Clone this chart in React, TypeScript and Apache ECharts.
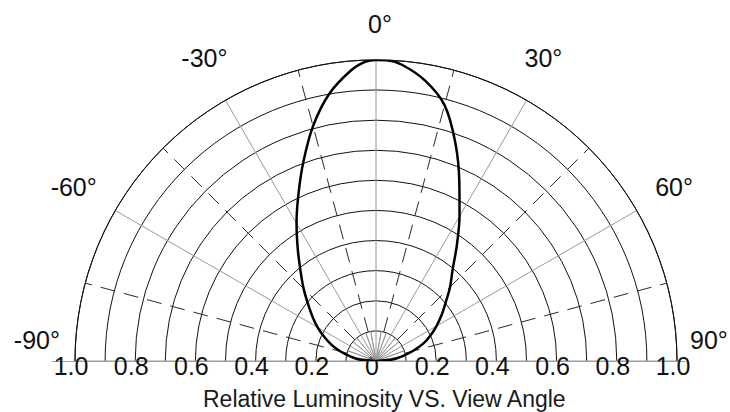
import React, { useEffect, useRef } from "react";
import * as echarts from "echarts";

// ---- data ----
const angleTicks = [-90, -60, -30, 0, 30, 60, 90];
const radiusTicks = [-1, -0.8, -0.6, -0.4, -0.2, 0, 0.2, 0.4, 0.6, 0.8, 1];
const curveAngles = [
  -90, -85, -80, -75, -70, -65, -60, -55, -50, -45, -40, -35, -30, -25, -20, -15, -10, -5,
  -2, 0, 2,
  5, 10, 15, 20, 25, 30, 35, 40, 45, 50, 55, 60, 65, 70, 75, 80, 85, 90,
];
const curveLuminosity = [
  0, 0.055, 0.085, 0.122, 0.157, 0.19, 0.224, 0.258, 0.295, 0.34, 0.39, 0.453, 0.528, 0.61, 0.705, 0.808, 0.9, 0.968,
  0.995, 1.0, 1.0,
  0.988, 0.945, 0.88, 0.771, 0.655, 0.555, 0.468, 0.396, 0.348, 0.302, 0.266, 0.232, 0.199, 0.166, 0.125, 0.088, 0.055, 0,
];
const dashedSpokes = [-75, -45, -15, 15, 45, 75];
const innerSpokes = [-80, -70, -50, -40, -20, -10, 10, 20, 40, 50, 70, 80];
const titleText = "Relative Luminosity VS. View Angle";

const FONT = "'Liberation Sans', Arial, sans-serif";

export default function App() {
  const ref = useRef<HTMLDivElement>(null);

  useEffect(() => {
    document.body.style.margin = "0";
    if (!ref.current) return;
    const chart = echarts.init(ref.current, undefined, { renderer: "svg" });

    const cx = 376;
    const cy = 361;
    const R = 301;
    const axisCx = 372;
    const xMin = (52 - axisCx) / R;
    const xMax = (685 - axisCx) / R;

    const curveData = curveAngles.map((a, i) => [curveLuminosity[i], a]);

    const innerData: any[] = [];
    innerSpokes.forEach((a) => {
      innerData.push([0.1, a]);
      innerData.push([0, a]);
    });

    const dashedSeries = dashedSpokes.map((a) => ({
      type: "line",
      coordinateSystem: "polar",
      data: [
        [0.1, a],
        [1.0, a],
      ],
      symbol: "none",
      silent: true,
      lineStyle: { color: "#2a2a2a", width: 1, type: [15, 9] },
      z: 3,
    }));

    const labelFont = { fontSize: 25, color: "#111", fontFamily: FONT };
    // per-label nudges (padding: top, right, bottom, left)
    const rich: any = {
      m90: { ...labelFont, padding: [0, 19, 43, 0] },
      m60: { ...labelFont, padding: [0, 22, 13, 0] },
      m30: { ...labelFont, padding: [0, 0, 33, 0] },
      z0: { ...labelFont, padding: [0, 0, 28, 8] },
      p30: { ...labelFont, padding: [0, 0, 33, 0] },
      p60: { ...labelFont, padding: [0, 0, 13, 22] },
      p90: { ...labelFont, padding: [0, 0, 42, 17] },
    };
    const richName = (v: number) =>
      v === 0 ? "z0" : (v < 0 ? "m" : "p") + Math.abs(v);

    const option: any = {
      animation: false,
      backgroundColor: "#ffffff",
      title: {
        text: titleText,
        left: 198,
        top: 382,
        textStyle: { fontSize: 23, fontWeight: "normal", color: "#1a1a1a", fontFamily: FONT },
      },
      polar: { center: [cx, cy], radius: R },
      angleAxis: {
        type: "value",
        min: -90,
        max: 90,
        interval: 30,
        startAngle: 180,
        endAngle: 0,
        clockwise: true,
        axisLine: { show: true, lineStyle: { color: "#111", width: 1 } },
        axisTick: { show: false },
        splitLine: { show: true, lineStyle: { color: "#9a9a9a", width: 1 } },
        axisLabel: {
          show: true,
          margin: -4,
          ...labelFont,
          rich,
          formatter: (v: number) =>
            angleTicks.includes(v) ? `{${richName(v)}|${v}°}` : "",
        },
      },
      radiusAxis: {
        type: "value",
        min: 0,
        max: 1,
        interval: 0.1,
        axisLine: { show: false },
        axisTick: { show: false },
        axisLabel: { show: false },
        splitLine: { show: true, lineStyle: { color: "#111", width: 1 } },
      },
      grid: {
        left: axisCx + xMin * R,
        width: (xMax - xMin) * R,
        top: 0,
        bottom: 412 - cy,
        show: false,
      },
      xAxis: {
        type: "value",
        min: xMin,
        max: xMax,
        axisLine: { show: true, onZero: false, lineStyle: { color: "#a0a0a0", width: 1 } },
        axisTick: { show: false },
        splitLine: { show: false },
        axisLabel: {
          customValues: radiusTicks,
          margin: -8,
          ...labelFont,
          formatter: (v: number) => (Math.abs(v) < 1e-9 ? "0" : Math.abs(v).toFixed(1)),
        },
      },
      yAxis: { type: "value", show: false, min: 0, max: 1 },
      series: [
        {
          type: "line",
          coordinateSystem: "polar",
          data: innerData,
          symbol: "none",
          silent: true,
          lineStyle: { color: "#9a9a9a", width: 1 },
          z: 2,
        },
        ...dashedSeries,
        {
          type: "line",
          coordinateSystem: "polar",
          data: curveData,
          symbol: "none",
          smooth: 0.3,
          lineStyle: { color: "#000", width: 2.5 },
          z: 5,
        },
      ],
    };

    chart.setOption(option);
    return () => chart.dispose();
  }, []);

  return <div ref={ref} style={{ width: 730, height: 412 }} />;
}
